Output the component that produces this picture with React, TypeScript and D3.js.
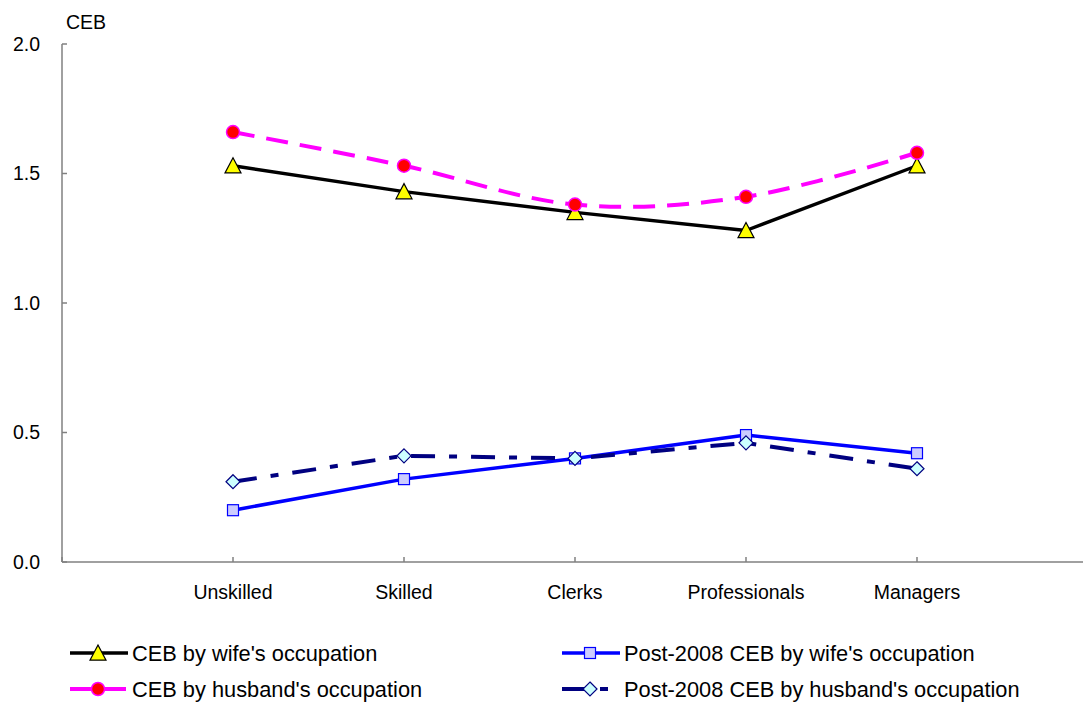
import React from "react";
import * as d3 from "d3";

const categories = ["Unskilled", "Skilled", "Clerks", "Professionals", "Managers"];
const cebWife = [1.53, 1.43, 1.35, 1.28, 1.53];
const cebHusband = [1.66, 1.53, 1.38, 1.41, 1.58];
const postWife = [0.2, 0.32, 0.4, 0.49, 0.42];
const postHusband = [0.31, 0.41, 0.4, 0.46, 0.36];
const yTicks = [0, 0.5, 1.0, 1.5, 2.0];

const W = 1083;
const H = 702;
const FONT = "'Liberation Sans', Arial, sans-serif";
const AXIS = "#808080";

type Marker = "triangle" | "circle" | "square" | "diamond";

interface Series {
  name: string;
  values: number[];
  stroke: string;
  width: number;
  dash?: string;
  smooth?: boolean;
  marker: Marker;
  fill: string;
  markerStroke: string;
}

const series: Series[] = [
  { name: "CEB by wife's occupation", values: cebWife, stroke: "#000000", width: 3.4, marker: "triangle", fill: "#ffff00", markerStroke: "#000000" },
  { name: "CEB by husband's occupation", values: cebHusband, stroke: "#ff00ff", width: 4, dash: "22,12", smooth: true, marker: "circle", fill: "#ff0000", markerStroke: "#ff00ff" },
  { name: "Post-2008 CEB by wife's occupation", values: postWife, stroke: "#0000ff", width: 3.5, marker: "square", fill: "#ccccff", markerStroke: "#0000ff" },
  { name: "Post-2008 CEB by husband's occupation", values: postHusband, stroke: "#000080", width: 4, dash: "24,14,8,14", marker: "diamond", fill: "#ccffff", markerStroke: "#000080" },
];

function MarkerShape({ kind, x, y, fill, stroke }: { kind: Marker; x: number; y: number; fill: string; stroke: string }) {
  if (kind === "triangle") {
    const s = 8;
    return <path d={`M${x},${y - s}L${x + s},${y + s * 0.9}L${x - s},${y + s * 0.9}Z`} fill={fill} stroke={stroke} strokeWidth={1.2} />;
  }
  if (kind === "circle") {
    return <circle cx={x} cy={y} r={6.5} fill={fill} stroke={stroke} strokeWidth={1.5} />;
  }
  if (kind === "square") {
    return <rect x={x - 5.5} y={y - 5.5} width={11} height={11} fill={fill} stroke={stroke} strokeWidth={1.2} />;
  }
  const s = 7;
  return <path d={`M${x},${y - s}L${x + s},${y}L${x},${y + s}L${x - s},${y}Z`} fill={fill} stroke={stroke} strokeWidth={1.2} />;
}

export default function App() {
  const x = d3.scalePoint<string>().domain(categories).range([62, 1088]).padding(1);
  const y = d3.scaleLinear().domain([0, 2]).range([562, 44]);
  const x0 = 62;
  const x1 = 1088;

  const makeLine = (smooth?: boolean) =>
    d3
      .line<number>()
      .x((_, i) => x(categories[i]) as number)
      .y((v) => y(v))
      .curve(smooth ? d3.curveCardinal.tension(0) : d3.curveLinear);

  const step = x.step();
  const tickXs = d3.range(0, categories.length + 2).map((i) => x0 + i * step);

  const legendPos = [
    { lx: 70, ty: 653 },
    { lx: 70, ty: 689 },
    { lx: 562, ty: 653 },
    { lx: 562, ty: 689 },
  ];

  return (
    <div style={{ position: "absolute", left: 0, top: 0 }}>
      <svg width={W} height={H} style={{ display: "block", background: "#ffffff" }}>
        {/* y axis */}
        <line x1={x0} y1={y(2)} x2={x0} y2={y(0)} stroke={AXIS} strokeWidth={1.5} />
        {yTicks.map((t) => (
          <g key={t}>
            <line x1={x0} x2={x0 + 5} y1={y(t)} y2={y(t)} stroke={AXIS} strokeWidth={1.5} />
            <text x={40} y={y(t)} dy="0.35em" textAnchor="end" fontFamily={FONT} fontSize={19.5} fill="#000">
              {t.toFixed(1)}
            </text>
          </g>
        ))}
        <text x={66} y={22} dy="0.35em" fontFamily={FONT} fontSize={19.5} fill="#000">
          CEB
        </text>

        {/* x axis */}
        <line x1={x0} y1={y(0)} x2={x1} y2={y(0)} stroke={AXIS} strokeWidth={1.5} />
        {tickXs.map((tx, i) => (
          <line key={i} x1={tx} x2={tx} y1={y(0)} y2={y(0) - 5} stroke={AXIS} strokeWidth={1.5} />
        ))}
        {categories.map((c) => (
          <text key={c} x={x(c)} y={592} dy="0.35em" textAnchor="middle" fontFamily={FONT} fontSize={19.5} fill="#000">
            {c}
          </text>
        ))}

        {/* series lines and markers */}
        {series.map((s) => (
          <g key={s.name}>
            <path
              d={makeLine(s.smooth)(s.values) || ""}
              fill="none"
              stroke={s.stroke}
              strokeWidth={s.width}
              strokeDasharray={s.dash}
              strokeLinejoin="round"
            />
            {s.values.map((v, i) => (
              <MarkerShape key={i} kind={s.marker} x={x(categories[i]) as number} y={y(v)} fill={s.fill} stroke={s.markerStroke} />
            ))}
          </g>
        ))}

        {/* legend */}
        {series.map((s, i) => {
          const p = legendPos[i];
          return (
            <g key={s.name}>
              <line x1={p.lx} x2={p.lx + 58} y1={p.ty} y2={p.ty} stroke={s.stroke} strokeWidth={s.width} strokeDasharray={s.dash} />
              <MarkerShape kind={s.marker} x={p.lx + 28} y={p.ty} fill={s.fill} stroke={s.markerStroke} />
              <text x={p.lx + 62} y={p.ty} dy="0.35em" fontFamily={FONT} fontSize={21.8} fill="#000">
                {s.name}
              </text>
            </g>
          );
        })}
      </svg>
    </div>
  );
}
